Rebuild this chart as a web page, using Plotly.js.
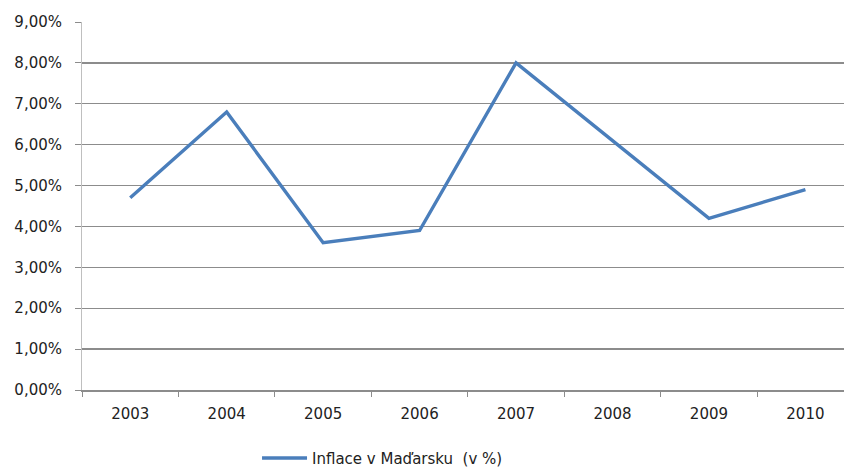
<!DOCTYPE html>
<html>
<head>
<meta charset="utf-8">
<script src="https://cdn.plot.ly/plotly-3.0.1.min.js"></script>
<style>
  html, body { margin: 0; padding: 0; background: #fff; overflow: hidden; }
  #chart { width: 844px; height: 468px; }
</style>
</head>
<body>
<div id="chart"></div>
<script>
// Roky a míra inflace v Maďarsku (v %)
const years = ['2003', '2004', '2005', '2006', '2007', '2008', '2009', '2010'];
const inflation = [4.7, 6.8, 3.6, 3.9, 8.0, 6.1, 4.2, 4.9];
const seriesName = 'Inflace v Maďarsku\u00a0\u00a0(v %)';

const textFont = { family: 'DejaVu Sans, Verdana, sans-serif', size: 15, color: '#222222' };

const trace = {
  type: 'scatter',
  mode: 'lines',
  x: years,
  y: inflation,
  name: seriesName,
  line: { color: '#4a7ebb', width: 3.4 },
  showlegend: true
};

const layout = {
  width: 844,
  height: 468,
  margin: { l: 82, r: 0, t: 22, b: 78, autoexpand: false },
  paper_bgcolor: '#ffffff',
  plot_bgcolor: '#ffffff',
  font: textFont,
  separators: ',.',
  showlegend: true,
  legend: {
    orientation: 'h',
    x: 0.2297, xanchor: 'left',
    y: -0.1855, yanchor: 'middle',
    itemwidth: 45,
    font: textFont,
    bgcolor: 'rgba(0,0,0,0)'
  },
  xaxis: {
    type: 'category',
    range: [-0.5, 7.4],
    tickson: 'boundaries',
    ticks: 'outside',
    ticklen: 5,
    tickwidth: 1,
    tickcolor: '#8c8c8c',
    ticklabelstandoff: 9,
    showgrid: false,
    showline: true,
    linecolor: '#8c8c8c',
    linewidth: 1.5,
    zeroline: false,
    tickfont: textFont,
    fixedrange: true
  },
  yaxis: {
    range: [0, 9],
    dtick: 1,
    tick0: 0,
    tickformat: '.2f',
    ticksuffix: '%',
    ticks: 'outside',
    ticklen: 6,
    tickwidth: 1,
    tickcolor: '#8c8c8c',
    ticklabelstandoff: 10,
    showgrid: true,
    gridcolor: '#8c8c8c',
    gridwidth: 1.4,
    showline: true,
    linecolor: '#bfbfbf',
    linewidth: 1,
    zeroline: false,
    tickfont: textFont,
    fixedrange: true
  }
};

Plotly.newPlot('chart', [trace], layout, { displayModeBar: false, staticPlot: true });
</script>
</body>
</html>
